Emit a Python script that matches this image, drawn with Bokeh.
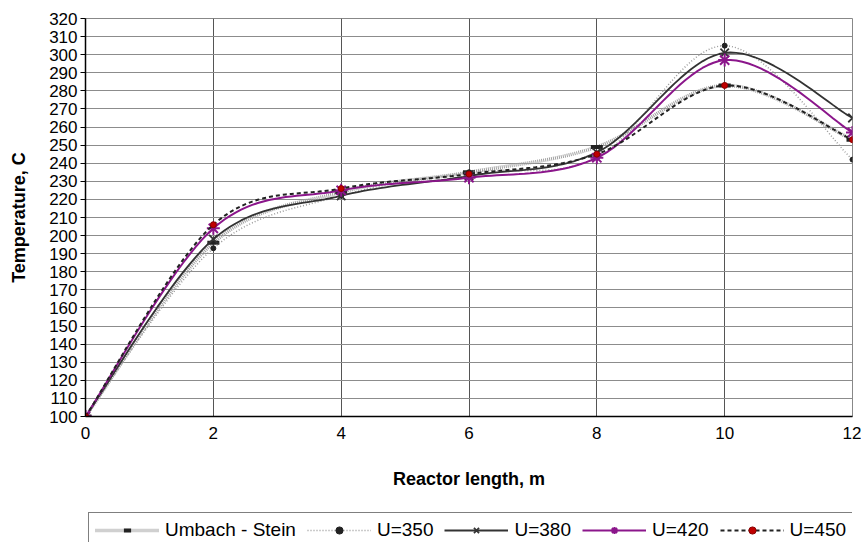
import numpy as np
from bokeh.plotting import figure
from bokeh.layouts import column
from bokeh.models import Range1d, FixedTicker, Legend, LegendItem
from bokeh.embed import file_html
from bokeh.resources import INLINE

# ---- data ----
length_m = [0, 2, 4, 6, 8, 10, 12]
umbach_stein = [100, 196, 224, 235, 249, 283, 253]
u350 = [100, 193, 222, 235, 243, 305, 242]
u380 = [100, 198, 222, 233, 246, 301, 265]
u420 = [100, 204, 225, 232, 243, 297, 257]
u450 = [100, 206, 226, 234, 245, 283, 253]
series_names = ["Umbach - Stein", "U=350", "U=380", "U=420", "U=450"]
y_ticks = list(range(100, 330, 10))
x_ticks = [0, 2, 4, 6, 8, 10, 12]


def smooth(xs, ys, n=24):
    """Excel-like smoothed line (cardinal Bezier through the data points)."""
    P = np.column_stack([xs, ys]).astype(float)
    out = [P[0]]
    m = len(P)
    for i in range(m - 1):
        p0 = P[i - 1] if i > 0 else P[i]
        p3 = P[i + 2] if i + 2 < m else P[i + 1]
        c1 = P[i] + (P[i + 1] - p0) / 6.0
        c2 = P[i + 1] - (p3 - P[i]) / 6.0
        t = np.linspace(0, 1, n)[1:, None]
        seg = ((1 - t) ** 3) * P[i] + 3 * ((1 - t) ** 2) * t * c1 + 3 * (1 - t) * t ** 2 * c2 + t ** 3 * P[i + 1]
        out.extend(seg)
    out = np.array(out)
    return out[:, 0], out[:, 1]


FONT = "Liberation Sans"

STYLES = [
    (dict(line_color="#a0a0a0", line_width=3.5, line_dash="1 1"),
     dict(marker="dash", size=12, line_width=4, line_color="#222222")),
    (dict(line_color="#9a9a9a", line_width=1.5, line_dash="1 2"),
     dict(marker="circle", size=5, fill_color="#222222", line_color="#222222")),
    (dict(line_color="#333333", line_width=1.8),
     dict(marker="x", size=12, line_width=1.8, line_color="#333333")),
    (dict(line_color="#8b168b", line_width=2),
     dict(marker="asterisk", size=13, line_width=2, line_color="#8b168b")),
    (dict(line_color="#222222", line_width=2, line_dash="4 3"),
     dict(marker="circle", size=6, fill_color="#c00000", line_color="#8a0000")),
]
ALL = [umbach_stein, u350, u380, u420, u450]

p = figure(width=861, height=498, output_backend="svg", toolbar_location=None,
           x_range=Range1d(0, 12), y_range=Range1d(100, 320),
           min_border_left=85, min_border_right=9, min_border_top=18, min_border_bottom=82)
p.background_fill_color = "white"
p.border_fill_color = "white"
p.outline_line_color = "#888888"

# grid
p.ygrid.ticker = FixedTicker(ticks=y_ticks)
p.xgrid.ticker = FixedTicker(ticks=x_ticks)
p.ygrid.grid_line_color = "#8c8c8c"
p.xgrid.grid_line_color = "#555555"

# axes
p.yaxis.ticker = FixedTicker(ticks=y_ticks)
p.xaxis.ticker = FixedTicker(ticks=x_ticks)
for ax in (p.xaxis[0], p.yaxis[0]):
    ax.axis_line_color = "black"
    ax.axis_line_width = 1.5
    ax.major_label_text_font = FONT
    ax.major_label_text_font_size = "17px"
    ax.major_label_text_color = "black"
    ax.axis_label_text_font = FONT
    ax.axis_label_text_font_size = "18px"
    ax.axis_label_text_font_style = "bold"
    ax.axis_label_text_color = "black"
    ax.minor_tick_line_color = None
p.yaxis.major_tick_out = 5
p.yaxis.major_tick_in = 0
p.yaxis.major_label_standoff = 3
p.xaxis.major_tick_out = 0
p.xaxis.major_tick_in = 0
p.xaxis.major_label_standoff = 10
p.yaxis.axis_label = "Temperature, C"
p.xaxis.axis_label = "Reactor length, m"
p.xaxis.axis_label_standoff = 27
p.yaxis.axis_label_standoff = 17

for ys, (ls, ms) in zip(ALL, STYLES):
    sx, sy = smooth(length_m, ys)
    p.line(sx, sy, **ls)
    p.scatter(length_m, ys, **ms)

# ---- legend strip below the chart ----
lg = figure(width=861, height=44, output_backend="svg", toolbar_location=None,
            x_axis_type=None, y_axis_type=None,
            x_range=Range1d(100, 101), y_range=Range1d(100, 101),
            min_border_left=0, min_border_right=0, min_border_top=0, min_border_bottom=0)
lg.outline_line_color = None
lg.grid.visible = False
items = []
for name, ys, (ls, ms) in zip(series_names, ALL, STYLES):
    r1 = lg.line(length_m, ys, **ls)
    r2 = lg.scatter(length_m, ys, **ms)
    items.append(LegendItem(label=name, renderers=[r1, r2]))

legend = Legend(items=items, orientation="horizontal", location=(3, -6))
legend.label_text_font = FONT
legend.label_text_font_size = "19px"
legend.label_text_color = "black"
legend.glyph_width = 64
legend.glyph_height = 18
legend.label_standoff = 6
legend.spacing = 11
legend.padding = 6
legend.margin = 0
legend.border_line_color = "black"
legend.border_line_width = 1
legend.background_fill_color = "white"
lg.add_layout(legend, "center")

layout = column(p, lg, spacing=0)
open("out.html", "w").write(file_html(layout, INLINE))
